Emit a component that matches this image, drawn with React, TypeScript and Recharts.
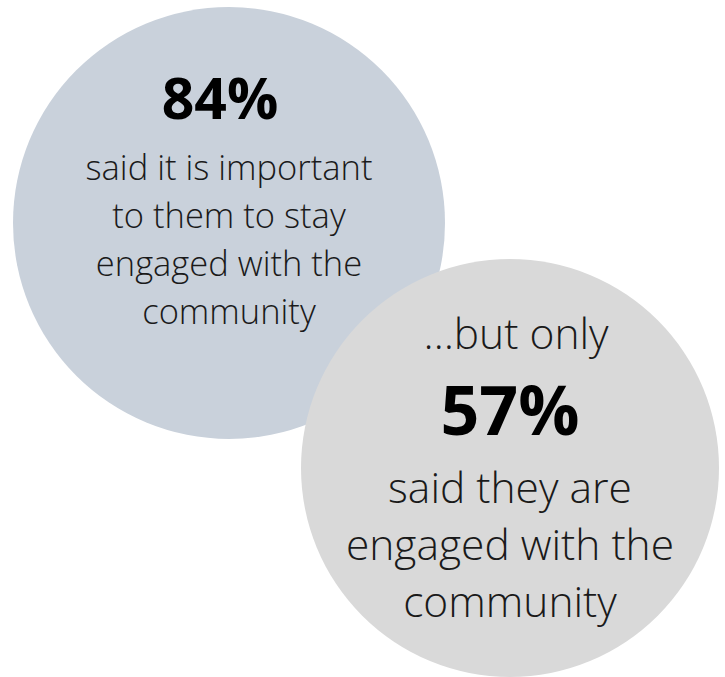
import React from 'react';
import { ScatterChart, Scatter, XAxis, YAxis } from 'recharts';

// survey results shown as two overlapping bubbles
const percentages = [84, 57];
const leadIns = ['', '…but only'];
const captions = [
  ['said it is important', 'to them to stay', 'engaged with the', 'community'],
  ['said they are', 'engaged with the', 'community'],
];

// layout only (not data): bubble centre in chart units, radius and text offsets
const layout = [
  { cx: 229, cy: 223, r: 216, fill: '#c9d1db', pctSize: 57, pctDy: -104, pctDx: -9, leadDy: 0, leadDx: 0, bodySize: 34.5, bodyDy: -43, bodyDx: 0, lineGap: 48 },
  { cx: 510, cy: 468, r: 209, fill: '#d9d9d9', pctSize: 68, pctDy: -33, pctDx: 0, leadDy: -119, leadDx: 6, bodySize: 42.5, bodyDy: 35, bodyDx: 0, lineGap: 57 },
];

const FONT = '"Open Sans", "Noto Sans", sans-serif';

const points = percentages.map((p, i) => ({
  x: layout[i].cx,
  y: layout[i].cy,
  value: p,
  lead: leadIns[i],
  caption: captions[i],
  idx: i,
}));

const Bubble = (props: any) => {
  const { cx, cy, payload } = props;
  const l = layout[payload.idx];
  return (
    <g>
      <circle cx={cx} cy={cy} r={l.r} fill={l.fill} />
      {payload.lead ? (
        <text x={cx + l.leadDx} y={cy + l.leadDy} textAnchor="middle" fontFamily={FONT} fontWeight={300} fontSize={l.bodySize} fill="#1a1a1a">
          {payload.lead}
        </text>
      ) : null}
      <text x={cx + l.pctDx} y={cy + l.pctDy} textAnchor="middle" fontFamily={FONT} fontWeight={700} fontSize={l.pctSize} fill="#000">
        {payload.value}%
      </text>
      {payload.caption.map((line: string, k: number) => (
        <text
          key={k}
          x={cx + l.bodyDx}
          y={cy + l.bodyDy + k * l.lineGap}
          textAnchor="middle"
          fontFamily={FONT}
          fontWeight={300}
          fontSize={l.bodySize}
          fill="#1a1a1a"
        >
          {line}
        </text>
      ))}
    </g>
  );
};

export default function App() {
  return (
    <div style={{ position: 'absolute', left: 0, top: 0, background: '#fff' }}>
      <ScatterChart width={725} height={677} margin={{ top: 0, right: 0, bottom: 0, left: 0 }}>
        <XAxis type="number" dataKey="x" domain={[0, 725]} hide />
        <YAxis type="number" dataKey="y" domain={[0, 677]} reversed hide />
        {points.map((pt, i) => (
          <Scatter key={i} data={[pt]} shape={<Bubble />} isAnimationActive={false} />
        ))}
      </ScatterChart>
    </div>
  );
}
